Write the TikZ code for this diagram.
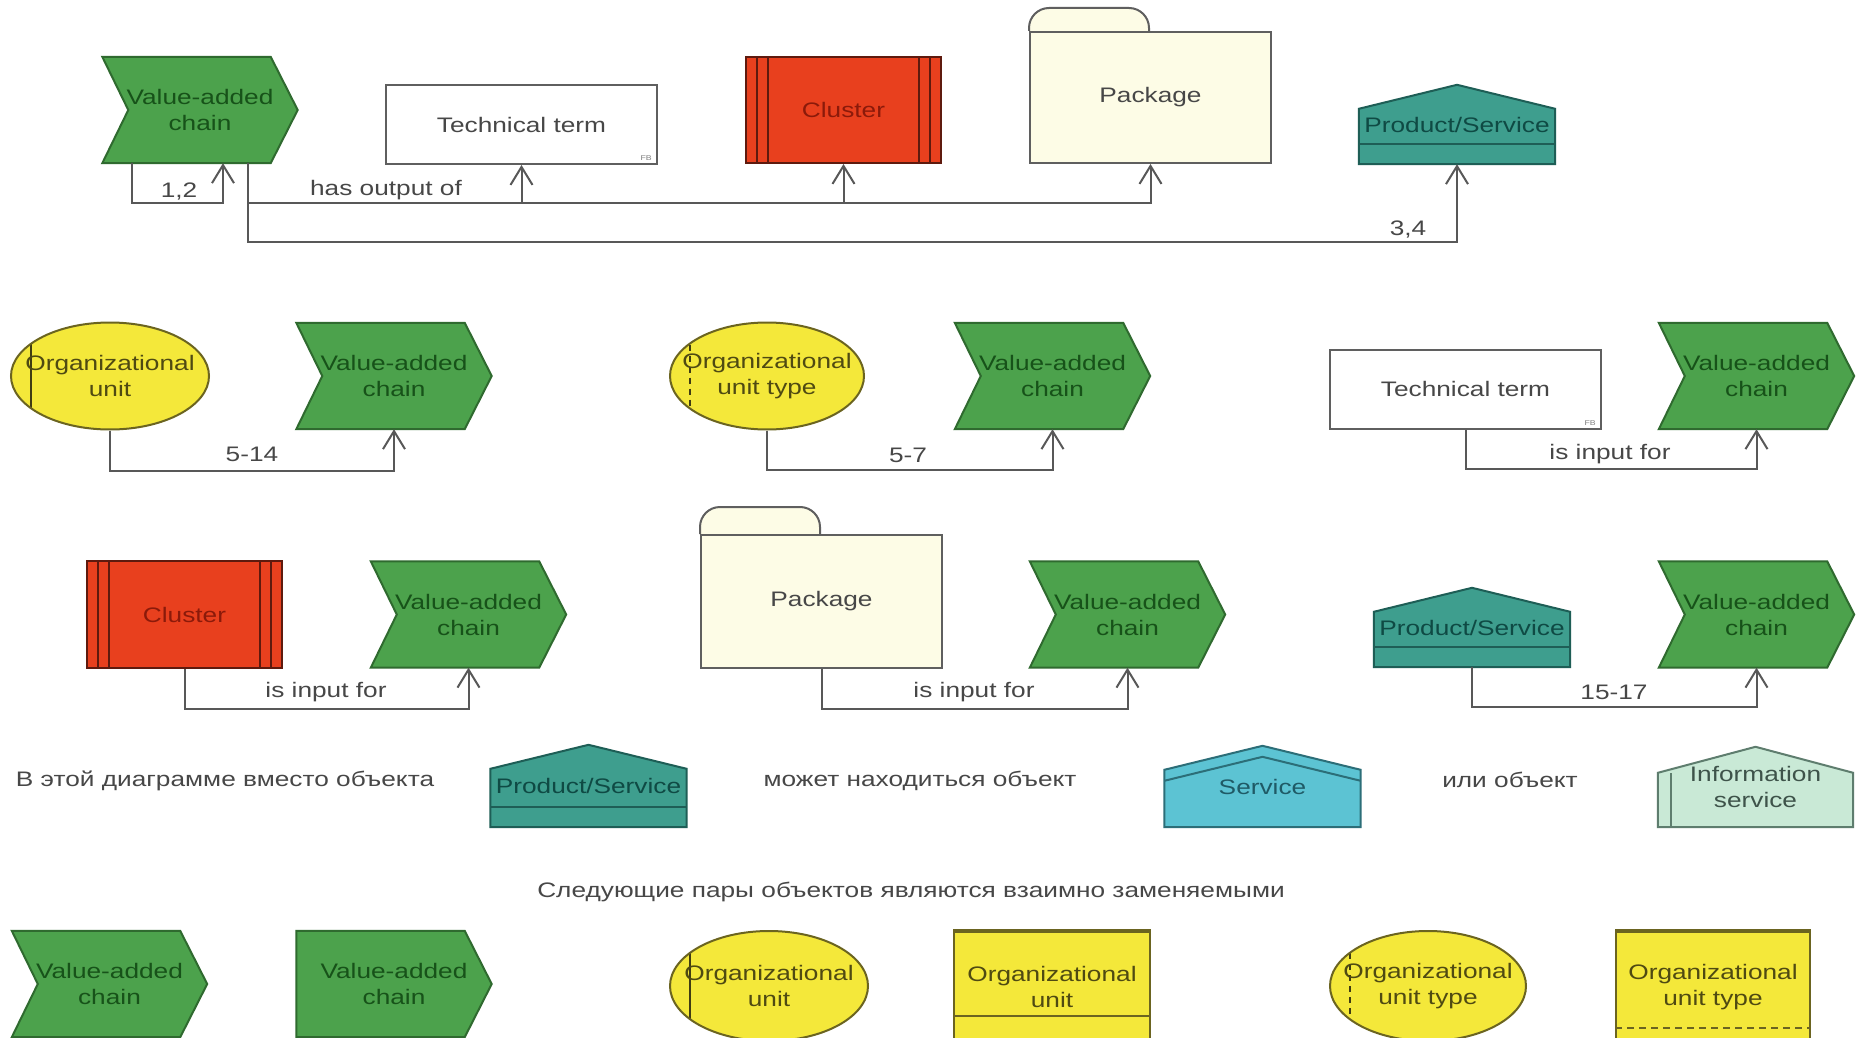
\documentclass[tikz,border=0pt]{standalone}
\usepackage{fontspec}
\setmainfont{Liberation Sans}[FakeStretch=1.25]
\usetikzlibrary{arrows.meta,shapes.geometric,calc}
\pgfdeclarelayer{paper}
\pgfdeclarelayer{bg}
\pgfsetlayers{paper,bg,main}

\definecolor{vacfill}{HTML}{4CA24C}
\definecolor{vacedge}{HTML}{2F6A2F}
\definecolor{vactext}{HTML}{175219}
\definecolor{clfill}{HTML}{E8401E}
\definecolor{cledge}{HTML}{5E1A0E}
\definecolor{cltext}{HTML}{8B1A0A}
\definecolor{oufill}{HTML}{F4E83A}
\definecolor{ouedge}{HTML}{6B6420}
\definecolor{outext}{HTML}{4F4A12}
\definecolor{psfill}{HTML}{3E9E8E}
\definecolor{psedge}{HTML}{1E5E56}
\definecolor{pstext}{HTML}{0F4A44}
\definecolor{svfill}{HTML}{5CC3D3}
\definecolor{svedge}{HTML}{2C6E78}
\definecolor{svtext}{HTML}{1F5A66}
\definecolor{isfill}{HTML}{C9E9D6}
\definecolor{isedge}{HTML}{5E7D6E}
\definecolor{istext}{HTML}{3E534A}
\definecolor{pkfill}{HTML}{FDFCE6}
\definecolor{boxedge}{HTML}{5F5F5F}
\definecolor{linegray}{HTML}{585858}
\definecolor{labeltext}{HTML}{474747}

\tikzset{
  txt/.style={font=\fontsize{21}{26}\selectfont, align=center},
  vacbox/.style={txt, text=vactext, minimum width=195pt, minimum height=106pt, inner sep=0pt},
  vacline/.style={fill=vacfill, draw=vacedge, line width=2pt, line join=miter},
  ttbox/.style={txt, text=labeltext, draw=boxedge, fill=white, line width=2pt,
    minimum width=271pt, minimum height=79pt, inner sep=0pt},
  fbtag/.style={font=\fontsize{7}{8}\selectfont, text=gray, inner sep=0pt, anchor=south east},
  clbox/.style={txt, text=cltext, draw=cledge, fill=clfill, line width=2pt,
    minimum width=195pt, minimum height=106pt, inner sep=0pt,
    path picture={
      \foreach \d in {11,22}{
        \draw[cledge, line width=2pt] ([xshift=\d pt]path picture bounding box.north west) -- ([xshift=\d pt]path picture bounding box.south west);
        \draw[cledge, line width=2pt] ([xshift=-\d pt]path picture bounding box.north east) -- ([xshift=-\d pt]path picture bounding box.south east);
      }}},
  pkbox/.style={txt, text=labeltext, draw=boxedge, fill=pkfill, line width=2pt,
    minimum width=241pt, inner sep=0pt},
  pkline/.style={fill=pkfill, draw=boxedge, line width=2pt, rounded corners=20pt},
  housebox/.style={txt, minimum width=196pt, inner sep=0pt},
  psline/.style={fill=psfill, draw=psedge, line width=2pt, line join=miter},
  svline/.style={fill=svfill, draw=svedge, line width=2pt, line join=miter},
  isline/.style={fill=isfill, draw=isedge, line width=2pt, line join=miter},
  ouell/.style={ellipse, draw=ouedge, fill=oufill, line width=2pt,
    inner sep=0pt, minimum width=198pt, minimum height=107pt},
  outxt/.style={txt, text=outext, inner sep=0pt},
  unitmark/.style={path picture={\draw[ouedge!60!black, line width=1.6pt]
    ([xshift=20pt]path picture bounding box.north west) -- ([xshift=20pt]path picture bounding box.south west);}},
  typemark/.style={path picture={\draw[ouedge!60!black, line width=1.6pt, dash pattern=on 6pt off 5pt]
    ([xshift=20pt]path picture bounding box.north west) -- ([xshift=20pt]path picture bounding box.south west);}},
  ourect/.style={txt, text=outext, draw=ouedge, fill=oufill, line width=2pt,
    minimum width=196pt, minimum height=110pt, inner sep=0pt},
  conn/.style={draw=linegray, line width=2pt, -{Straight Barb[length=18pt,width=22pt]}},
  lbl/.style={txt, text=labeltext, inner sep=0pt},
  prose/.style={txt, text=labeltext, inner sep=0pt},
}

% value-added chain: chevron behind a named node
\newcommand\vacshape[3]{%
  \node[vacbox] (#1) at (#2) {#3};
  \begin{pgfonlayer}{bg}
    \draw[vacline] (#1.north west) -- ([xshift=-27pt]#1.north east) -- (#1.east)
      -- ([xshift=-27pt]#1.south east) -- (#1.south west) -- ([xshift=26pt]#1.west) -- cycle;
  \end{pgfonlayer}}
% value-added chain with a straight left side
\newcommand\vacflat[3]{%
  \node[vacbox] (#1) at (#2) {#3};
  \begin{pgfonlayer}{bg}
    \draw[vacline] (#1.north west) -- ([xshift=-27pt]#1.north east) -- (#1.east)
      -- ([xshift=-27pt]#1.south east) -- (#1.south west) -- cycle;
  \end{pgfonlayer}}
% product/service: roofed box with a base band
\newcommand\prodserv[3]{%
  \node[housebox, text=pstext, minimum height=#3pt] (#1) at (#2) {Product/Service};
  \begin{pgfonlayer}{bg}
    \draw[psline] (#1.south west) -- ([yshift=-24pt]#1.north west) -- (#1.north)
      -- ([yshift=-24pt]#1.north east) -- (#1.south east) -- cycle;
    \draw[psedge, line width=2pt] ([yshift=20pt]#1.south west) -- ([yshift=20pt]#1.south east);
  \end{pgfonlayer}}
% package: box with a rounded tab
\newcommand\pkgshape[4]{%
  \node[pkbox, minimum height=#3pt] (#1) at (#2) {Package};
  \begin{pgfonlayer}{bg}
    \draw[pkline] (#1.north west) -- ([yshift=#4pt]#1.north west)
      -- ([xshift=120pt,yshift=#4pt]#1.north west) -- ([xshift=120pt]#1.north west);
  \end{pgfonlayer}}

\begin{document}
\begin{tikzpicture}[x=1pt,y=-1pt]
\useasboundingbox (0,0) rectangle (1856,1038);
\begin{pgfonlayer}{paper}
  \fill[white] (0,0) rectangle (1856,1038);
\end{pgfonlayer}

% ---------- first block: outputs of the value-added chain ----------
\vacshape{v1}{200,110}{Value-added\\chain}
\node[ttbox] (tt1) at (521.5,124.5) {Technical term};
\node[fbtag] (fb1) at ([xshift=-6pt,yshift=4pt]tt1.south east) {FB};
\node[clbox] (cl1) at (843.5,110) {Cluster};
\pkgshape{pk1}{1150.5,97.5}{131}{23}
\prodserv{ps1}{1457,124.5}{79}

\draw[conn] ([xshift=-68pt]v1.south) -- ++(0,40) -| ([xshift=23pt]v1.south);
\node[lbl] (l12) at (179,192) {1,2};
\coordinate (j1) at ([xshift=48pt,yshift=-40pt]v1.south);
\draw[conn] ([xshift=48pt]v1.south) -- (j1) -| (pk1.south);
\draw[conn] (j1) -| (tt1.south);
\draw[conn] (j1) -| (cl1.south);
\draw[conn] (j1) -- ([yshift=-39pt]j1) -| (ps1.south);
\node[lbl] (lout) at (386,190) {has output of};
\node[lbl] (l34) at (1408,230) {3,4};

% ---------- second row ----------
\node[ouell, unitmark] (ou1) at (110,376) {};
\node[outxt] (ou1t) at (ou1) {Organizational\\unit};
\vacshape{v2}{394,376}{Value-added\\chain}
\draw[conn] (ou1.south) -- ++(0,40) -| (v2.south);
\node[lbl] (l514) at (252,454) {5-14};

\node[ouell, typemark, minimum width=194pt] (out1) at (767,376) {};
\node[outxt] (out1t) at (out1) {Organizational\\unit type};
\vacshape{v3}{1052.5,376}{Value-added\\chain}
\draw[conn] (out1.south) -- ++(0,39) -| (v3.south);
\node[lbl] (l57) at (908,455) {5-7};

\node[ttbox] (tt2) at (1465.5,389) {Technical term};
\node[fbtag] (fb2) at ([xshift=-6pt,yshift=4pt]tt2.south east) {FB};
\vacshape{v4}{1756.5,376}{Value-added\\chain}
\draw[conn] (tt2.south) -- ++(0,39) -| (v4.south);
\node[lbl] (lin1) at (1610,454) {is input for};

% ---------- third row ----------
\node[clbox, minimum height=107pt] (cl2) at (184.5,614.5) {Cluster};
\vacshape{v5}{468.5,614.5}{Value-added\\chain}
\draw[conn] (cl2.south) -- ++(0,40) -| (v5.south);
\node[lbl] (lin2) at (326,692) {is input for};

\pkgshape{pk2}{821.5,601.5}{133}{27}
\vacshape{v6}{1127.5,614.5}{Value-added\\chain}
\draw[conn] (pk2.south) -- ++(0,40) -| (v6.south);
\node[lbl] (lin3) at (974,692) {is input for};

\prodserv{ps2}{1472,627.5}{79}
\vacshape{v7}{1756.5,614.5}{Value-added\\chain}
\draw[conn] (ps2.south) -- ++(0,40) -| (v7.south);
\node[lbl] (l1517) at (1614,692) {15-17};

% ---------- substitution note ----------
\node[prose] (t1) at (225,781) {В этой диаграмме вместо объекта};
\prodserv{ps3}{588.5,786}{82}
\node[prose] (t2) at (920,781) {может находиться объект};

\node[housebox, text=svtext, minimum height=81pt] (sv) at (1262.5,786.5) {Service};
\begin{pgfonlayer}{bg}
  \draw[svline] (sv.south west) -- ([yshift=-24pt]sv.north west) -- (sv.north)
    -- ([yshift=-24pt]sv.north east) -- (sv.south east) -- cycle;
  \draw[svedge, line width=2pt] ([yshift=-35pt]sv.north west) -- ([yshift=-11pt]sv.north)
    -- ([yshift=-35pt]sv.north east);
\end{pgfonlayer}

\node[prose] (t3) at (1510,780) {или объект};

\node[housebox, text=istext, minimum width=195pt, minimum height=80pt] (is) at (1755.5,787) {Information\\service};
\begin{pgfonlayer}{bg}
  \draw[isline] (is.south west) -- ([yshift=-26pt]is.north west) -- (is.north)
    -- ([yshift=-26pt]is.north east) -- (is.south east) -- cycle;
  \draw[isedge, line width=2pt] ([xshift=13pt,yshift=-26pt]is.north west) -- ([xshift=13pt]is.south west);
\end{pgfonlayer}

\node[prose] (t4) at (911,892) {Следующие пары объектов являются взаимно заменяемыми};

% ---------- interchangeable pairs ----------
\vacshape{va}{109.5,984}{Value-added\\chain}
\vacflat{vb}{394,984}{Value-added\\chain}

\node[ouell, unitmark, minimum height=110pt] (oue) at (769,986) {};
\node[outxt] (ouet) at (oue) {Organizational\\unit};
\node[ourect] (our) at (1052,987) {Organizational\\unit};
\draw[ouedge, line width=2pt] ([yshift=-85pt]our.north west) -- ([yshift=-85pt]our.north east);
\draw[ouedge, line width=3.5pt] (our.north west) -- (our.north east);

\node[ouell, typemark, minimum width=196pt, minimum height=110pt] (oute) at (1428,986) {};
\node[outxt] (outet) at (oute) {Organizational\\unit type};
\node[ourect, minimum width=194pt] (outr) at (1713,987) {Organizational\\unit type};
\draw[ouedge, line width=2pt, dash pattern=on 7pt off 5pt] ([yshift=-97pt]outr.north west) -- ([yshift=-97pt]outr.north east);
\draw[ouedge, line width=3.5pt] (outr.north west) -- (outr.north east);
\end{tikzpicture}
\end{document}
